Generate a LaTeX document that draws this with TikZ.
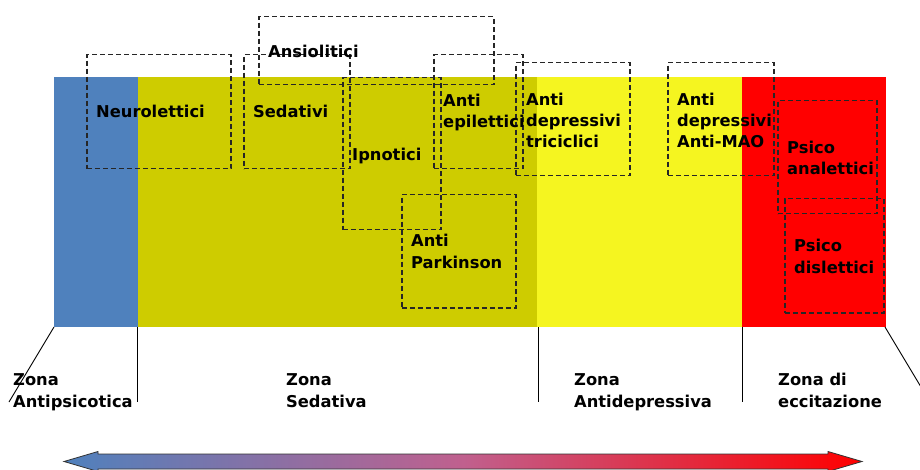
\documentclass[tikz,border=0pt]{standalone}
\usepackage{fontspec}
\setmainfont{DejaVu Sans}
\definecolor{zblue}{HTML}{4F81BD}
\definecolor{zolive}{HTML}{CECC00}
\definecolor{zyellow}{HTML}{F5F520}
\definecolor{zred}{HTML}{FF0000}
\definecolor{zmid}{HTML}{C0608E}
\tikzset{
  drug/.style={draw=black!85, dash pattern=on 5pt off 3pt, line width=1.5pt,
    inner sep=0pt, anchor=north west},
  lbl/.style={anchor=base west, align=left, inner sep=0pt,
    font=\bfseries\fontsize{16.3}{21.3}\selectfont},
  tick/.style={draw=black, line width=0.9pt}
}
\begin{document}
\begin{tikzpicture}[x=1pt,y=-1pt]
				\useasboundingbox (0,0) rectangle (920,470);
				% Zones
				\fill[zblue] (54,77) rectangle (138,327);
				\fill[zolive] (138,77) rectangle (537,327);
				\fill[zyellow] (537,77) rectangle (742,327);
				\fill[zred] (742,77) rectangle (886,327);
				% Zone borders
				\draw[tick] (54,327) -- (9,402);
				\draw[tick] (137.5,327) -- (137.5,402);
				\draw[tick] (538,327) -- (538,402);
				\draw[tick] (742,327) -- (742,402);
				\draw[tick] (885,327) -- (930,402);
				% Drug classes
				\node[drug, minimum width=144, minimum height=114] (neurobox) at (86,54) {};
				\node[drug, minimum width=106, minimum height=114] (sedbox) at (243,54) {};
				\node[drug, minimum width=235, minimum height=68] (ansiobox) at (258,16) {};
				\node[drug, minimum width=98, minimum height=152] (ipnobox) at (342,77) {};
				\node[drug, minimum width=89, minimum height=114] (epibox) at (433,54) {};
				\node[drug, minimum width=114, minimum height=113] (parkbox) at (401,194) {};
				\node[drug, minimum width=114, minimum height=113] (tribox) at (515,62) {};
				\node[drug, minimum width=106, minimum height=113] (maobox) at (667,62) {};
				\node[drug, minimum width=99, minimum height=113] (anabox) at (777,100) {};
				\node[drug, minimum width=99, minimum height=114] (disbox) at (784,198) {};
				% last line baselines
				\node[lbl] (neuro) at (96,118) {Neurolettici};
				\node[lbl] (sed) at (253,118) {Sedativi};
				\node[lbl] (ansio) at (268,58) {Ansiolitici};
				\node[lbl] (ipno) at (352,161) {Ipnotici};
				\node[lbl] (epi) at (443,128) {Anti\\epilettici};
				\node[lbl] (park) at (411,268) {Anti\\Parkinson};
				\node[lbl] (tri) at (526,148) {Anti\\depressivi\\triciclici};
				\node[lbl] (mao) at (677,148) {Anti\\depressivi\\Anti-MAO};
				\node[lbl] (ana) at (787,175) {Psico\\analettici};
				\node[lbl] (dis) at (794,273) {Psico\\dislettici};
				% Zone names
				\node[lbl] (zpsi) at (13,407) {Zona\\Antipsicotica};
				\node[lbl] (zsed) at (286,407) {Zona\\Sedativa};
				\node[lbl] (zdep) at (574,407) {Zona\\Antidepressiva};
				\node[lbl] (zecc) at (778,407) {Zona di\\eccitazione};
				% Scale arrow
				\shade[left color=zblue, right color=zred, middle color=zmid, draw=black!80, line width=0.8pt]
				(64,461.5) -- (98,451.5) -- (98,454) -- (828,454) -- (828,451.5) -- (862,461.5)
				-- (828,471.5) -- (828,469) -- (98,469) -- (98,471.5) -- cycle;
			\end{tikzpicture}
\end{document}
